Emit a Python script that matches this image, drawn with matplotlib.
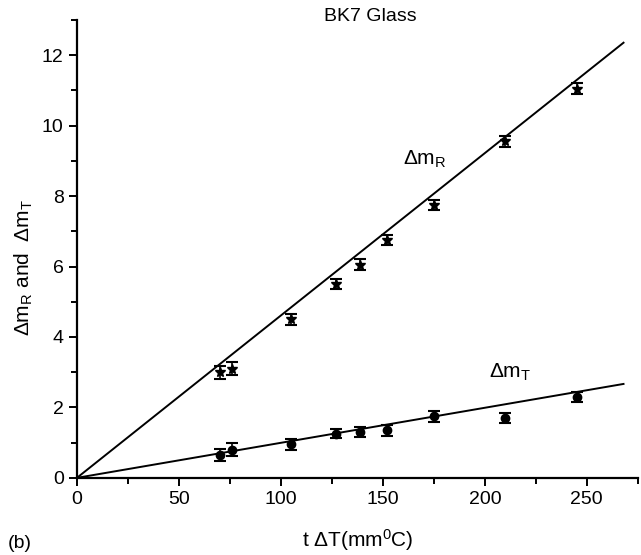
import matplotlib
matplotlib.use('Agg')
import matplotlib.pyplot as plt
import numpy as np
from matplotlib.ticker import MultipleLocator

matplotlib.rcParams['font.family'] = ['Liberation Sans', 'DejaVu Sans']
matplotlib.rcParams['mathtext.fontset'] = 'custom'
matplotlib.rcParams['mathtext.rm'] = 'Liberation Sans'
matplotlib.rcParams['mathtext.it'] = 'Liberation Sans'

# measured points (t*dT in mm degC)
x_vals = [70, 76, 105, 127, 139, 152, 175, 210, 245]
dm_R = [3.0, 3.1, 4.5, 5.5, 6.05, 6.75, 7.75, 9.55, 11.05]
dm_T = [0.65, 0.8, 0.95, 1.25, 1.3, 1.35, 1.75, 1.7, 2.3]
err_R = [0.18, 0.18, 0.15, 0.15, 0.15, 0.15, 0.15, 0.15, 0.15]
err_T = [0.18, 0.18, 0.15, 0.13, 0.13, 0.15, 0.15, 0.13, 0.15]

# linear fits through origin
slope_R = 0.0461
slope_T = 0.00995
fit_x = [0, 268]

fig = plt.figure(figsize=(6.41, 5.55), dpi=100)
ax = fig.add_axes([0.12, 0.139, 0.875, 0.825])

fx = np.array(fit_x)
ax.plot(fx, slope_R * fx, color='k', linewidth=1.4)
ax.plot(fx, slope_T * fx, color='k', linewidth=1.4)

ax.errorbar(x_vals, dm_R, yerr=err_R, fmt='*', color='k', markersize=7,
            capsize=4, elinewidth=1.2, capthick=1.5)
ax.errorbar(x_vals, dm_T, yerr=err_T, fmt='o', color='k', markersize=6,
            capsize=4, elinewidth=1.2, capthick=1.5)

ax.set_xlim(0, 275)
ax.set_ylim(0, 13)
ax.xaxis.set_major_locator(MultipleLocator(50))
ax.xaxis.set_minor_locator(MultipleLocator(25))
ax.yaxis.set_major_locator(MultipleLocator(2))
ax.yaxis.set_minor_locator(MultipleLocator(1))
ax.tick_params(which='both', direction='out', labelsize=14, width=1.4)
ax.tick_params(which='major', length=6)
ax.tick_params(which='minor', length=4)
ax.spines['top'].set_visible(False)
ax.spines['right'].set_visible(False)
ax.spines['left'].set_linewidth(1.6)
ax.spines['bottom'].set_linewidth(1.6)

ax.text(144, 13.1, 'BK7 Glass', fontsize=14, ha='center', va='center')
ax.text(160, 8.9, r'$\Delta$m$_\mathregular{R}$', fontsize=15)
ax.text(202, 2.85, r'$\Delta$m$_\mathregular{T}$', fontsize=15)

ax.set_xlabel(r't $\Delta$T(mm$^\mathregular{0}$C)', fontsize=15, labelpad=14)
ax.set_ylabel(r'$\Delta$m$_\mathregular{R}$ and  $\Delta$m$_\mathregular{T}$', fontsize=15)
ax.yaxis.set_label_coords(-0.074, 0.46)
fig.text(0.012, 0.012, '(b)', fontsize=14)

fig.savefig('out.png', dpi=100)
